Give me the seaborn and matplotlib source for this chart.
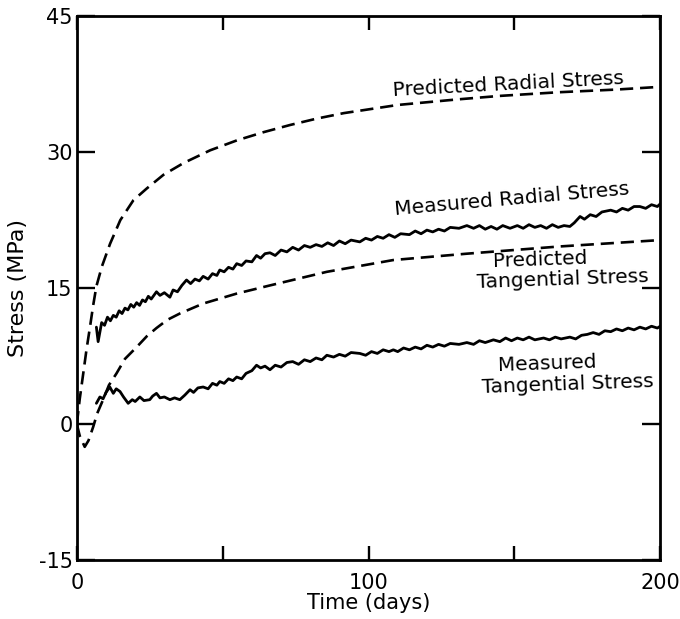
import seaborn as sns
import matplotlib.pyplot as plt

# predicted radial stress (smooth)
pr_days = [0, 1, 2.2, 3.3, 4.5, 5.6, 6.7, 8.6, 11.4, 14.9, 19.4, 24, 29.7, 36.6, 45.7,
           54.9, 64, 73.2, 82.3, 91.5, 110, 130, 145, 165, 185, 200]
pr_mpa = [0, 2.8, 5.6, 8.2, 10.7, 13.1, 15.2, 17.4, 19.9, 22.5, 24.7, 26.0, 27.5, 28.8, 30.2,
          31.3, 32.2, 33.0, 33.7, 34.3, 35.2, 35.8, 36.2, 36.6, 36.9, 37.2]

# predicted tangential stress (smooth)
pt_days = [0, 1, 2.7, 4, 5.6, 7, 9, 11, 13.6, 16.5, 20.5, 24, 27.3, 31, 35.3, 43.3,
           54.8, 66.2, 85.7, 108.5, 133.7, 165.7, 200]
pt_mpa = [0, -1.3, -2.5, -1.8, -0.3, 1.2, 2.7, 4.3, 5.6, 7.2, 8.5, 9.7, 10.6, 11.5, 12.2, 13.3,
          14.4, 15.3, 16.8, 18.1, 18.8, 19.6, 20.3]

# measured radial stress
mr_days = [6.7, 7.3, 8.5, 9.5, 10.5, 11.5, 12.5, 13.5, 14.5, 15.5, 16.5, 17.5, 18.5, 19.5,
           20.5, 21.5, 22.5, 23.5, 24.5, 25.5, 27.3, 28.5, 30, 31.9, 33, 34.5, 36, 37.6, 39,
           40.5, 42, 43.3, 45, 46.5, 48, 49, 50.5, 52, 53.5, 54.8, 56.5, 58, 60, 61.6, 63,
           64.5, 66.2, 68, 70, 72, 74, 76, 78, 80, 82, 84, 86, 88, 90, 92, 94, 97, 99, 101,
           103, 105, 107, 109, 111, 114, 116, 118, 120, 122, 124, 126, 128, 131, 133.7, 136,
           138, 140, 142, 144, 146, 148.5, 151, 153, 155, 157, 159, 161, 163, 165, 167, 169,
           170.5, 172.5, 174, 176, 178, 180, 183, 185, 187, 189, 191, 193, 195, 197, 199, 200]
mr_mpa = [10.7, 9.1, 11.2, 10.9, 11.8, 11.4, 12.0, 11.8, 12.5, 12.2, 12.8, 12.6, 13.2, 12.9,
          13.4, 13.1, 13.7, 13.5, 14.1, 13.8, 14.6, 14.2, 14.5, 14.0, 14.8, 14.6, 15.3, 15.9, 15.5,
          16.0, 15.8, 16.3, 16.0, 16.6, 16.4, 17.0, 16.8, 17.3, 17.1, 17.7, 17.5, 18.0, 17.9, 18.6, 18.3,
          18.8, 18.9, 18.6, 19.2, 19.0, 19.5, 19.2, 19.7, 19.5, 19.8, 19.6, 20.0, 19.7, 20.2, 19.9, 20.3, 20.1, 20.5, 20.3,
          20.7, 20.5, 20.9, 20.6, 21.0, 20.9, 21.3, 21.0, 21.4, 21.2, 21.5, 21.3, 21.7, 21.6, 21.9, 21.6,
          21.9, 21.5, 21.8, 21.5, 21.9, 21.6, 21.9, 21.6, 22.0, 21.7, 21.9, 21.6, 22.0, 21.7, 21.9, 21.8,
          22.2, 22.9, 22.6, 23.1, 22.9, 23.4, 23.6, 23.4, 23.8, 23.6, 24.0, 24.0, 23.8, 24.2, 24.0, 24.3]

# measured tangential stress
mt_days = [6.7, 7.9, 9, 10, 11.3, 12.5, 13.5, 14.8, 16, 17.6, 19, 20, 21.6, 23, 25, 26, 27.3,
           28.5, 30, 31.9, 33.5, 35.3, 37, 38.8, 40, 41.5, 43.3, 45, 46.5, 48, 49, 50.5, 52, 53.5,
           54.8, 56.5, 58, 60, 61.6, 63, 64.5, 66.2, 68, 70, 72, 74, 76, 78, 80, 82, 84, 85.7, 88,
           90, 92, 94, 97, 99, 101, 103, 105, 107, 108.5, 110, 112, 114, 116, 118, 120, 122, 124,
           126, 128, 131, 133.7, 136, 138, 140, 142.8, 145, 147, 149, 151, 153, 155, 157, 160, 162,
           164, 166, 169, 171, 173, 175, 177, 179, 181, 183, 185, 187, 189, 191, 193, 195, 197, 199, 200]
mt_mpa = [2.3, 3.0, 2.8, 3.5, 4.1, 3.4, 3.9, 3.6, 3.0, 2.3, 2.7, 2.5, 3.0, 2.6, 2.7, 3.1, 3.4,
          2.9, 3.0, 2.7, 2.9, 2.7, 3.2, 3.8, 3.5, 4.0, 4.1, 3.9, 4.5, 4.3, 4.7, 4.5, 5.0, 4.8,
          5.2, 5.0, 5.6, 5.9, 6.5, 6.2, 6.4, 6.0, 6.5, 6.3, 6.8, 6.9, 6.6, 7.1, 6.9, 7.3, 7.1, 7.6, 7.4,
          7.7, 7.5, 7.9, 7.8, 7.6, 8.0, 7.8, 8.2, 8.0, 8.2, 8.0, 8.4, 8.2, 8.5, 8.3, 8.7, 8.5, 8.8,
          8.6, 8.9, 8.8, 9.0, 8.8, 9.2, 9.0, 9.3, 9.1, 9.5, 9.2, 9.5, 9.3, 9.6, 9.3, 9.5, 9.3,
          9.6, 9.4, 9.6, 9.4, 9.8, 9.9, 10.1, 9.9, 10.3, 10.2, 10.5, 10.3, 10.6, 10.4, 10.7, 10.5, 10.8, 10.6, 10.8]

x_ticks = [0, 50, 100, 150, 200]
x_labels = ['0', '', '100', '', '200']
y_ticks = [-15, 0, 15, 30, 45]

sns.set_style("ticks")
plt.rcParams['font.family'] = ['DejaVu Sans']
plt.rcParams['axes.unicode_minus'] = False
for k in ['text.color', 'axes.labelcolor', 'xtick.color', 'ytick.color']:
    plt.rcParams[k] = 'black'

fig = plt.figure(figsize=(6.8, 6.19), dpi=100)
ax = fig.add_axes([0.113, 0.095, 0.858, 0.879])

dash = (0, (5, 2.6))
sns.lineplot(x=pr_days, y=pr_mpa, ax=ax, color='black', lw=1.9, linestyle=dash)
sns.lineplot(x=pt_days, y=pt_mpa, ax=ax, color='black', lw=1.9, linestyle=dash)
sns.lineplot(x=mr_days, y=mr_mpa, ax=ax, color='black', lw=2.0)
sns.lineplot(x=mt_days, y=mt_mpa, ax=ax, color='black', lw=2.0)

ax.set_xlim(0, 200)
ax.set_ylim(-15, 45)
ax.set_xticks(x_ticks)
ax.set_xticklabels(x_labels)
ax.set_yticks(y_ticks)
ax.tick_params(direction='in', top=True, right=True, width=1.7, color='black', labelsize=15)
ax.tick_params(axis='y', length=13, pad=3)
ax.tick_params(axis='x', length=10, pad=9)
for s in ax.spines.values():
    s.set_linewidth(2.0)
    s.set_color('black')

ax.set_xlabel('Time (days)', fontsize=15, labelpad=0)
ax.set_ylabel('Stress (MPa)', fontsize=16, labelpad=8)

ax.text(148, 37.5, 'Predicted Radial Stress', ha='center', va='center', fontsize=14.5, rotation=3)
ax.text(149, 24.8, 'Measured Radial Stress', ha='center', va='center', fontsize=14.5, rotation=5)
ax.text(158.8, 18.1, 'Predicted', ha='center', va='center', fontsize=14.5, rotation=2)
ax.text(166.4, 16.0, 'Tangential Stress', ha='center', va='center', fontsize=14.5, rotation=2)
ax.text(161.2, 6.7, 'Measured', ha='center', va='center', fontsize=14.5, rotation=2)
ax.text(168.1, 4.4, 'Tangential Stress', ha='center', va='center', fontsize=14.5, rotation=2)

fig.savefig('out.png', dpi=100)
